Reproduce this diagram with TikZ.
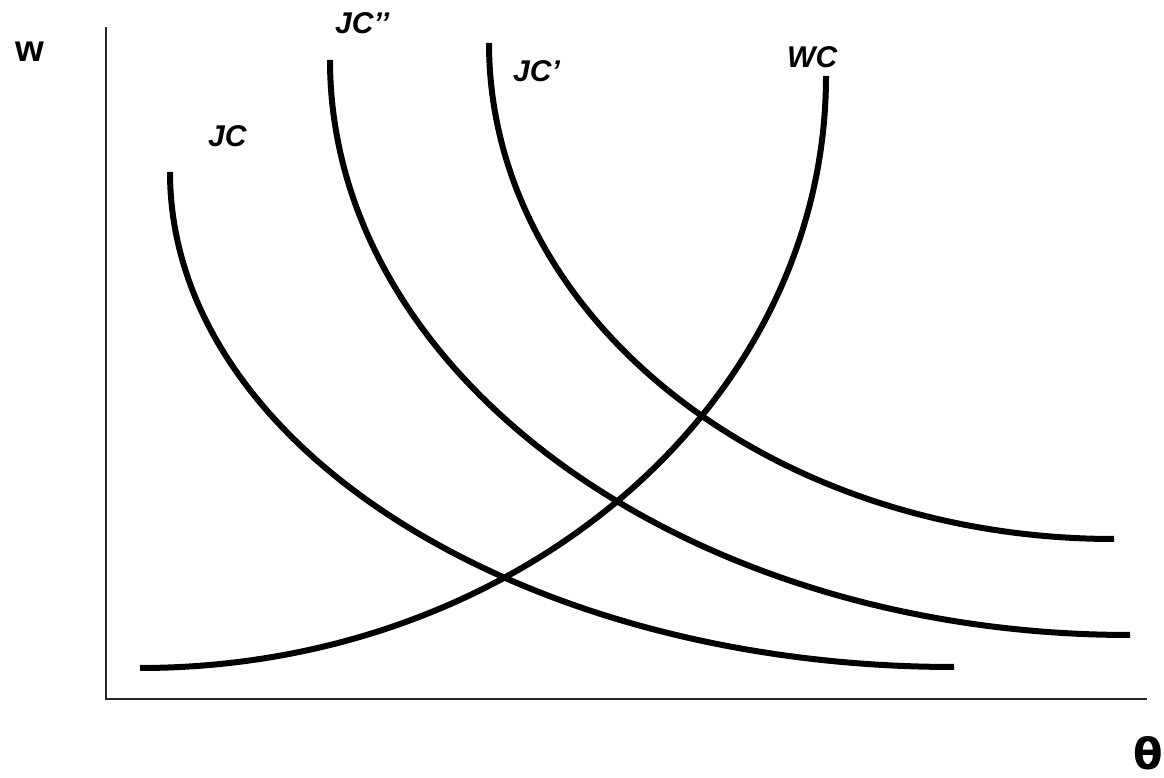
\documentclass[tikz,border=0pt]{standalone}
\usepackage{fontspec}
\setmainfont{Liberation Sans}
\newfontfamily\dejavu{DejaVu Sans}
\begin{document}
\begin{tikzpicture}[x=1pt,y=1pt,
  curve/.style={line width=6pt, line cap=butt},
  axis/.style={line width=1.8pt, draw=black!85},
  lbl/.style={anchor=base west, inner sep=0pt, font=\fontsize{30}{36}\selectfont\bfseries\itshape},
  axlbl/.style={anchor=base west, inner sep=0pt, font=\fontsize{37}{44}\selectfont\bfseries}]
\useasboundingbox (0,0) rectangle (1164,778);
% axes
\coordinate (ytop) at (106,751);
\coordinate (orig) at (106,79);
\coordinate (xend) at (1147,79);
\draw[axis] (ytop) -- (orig) -- (xend);
% curves (elliptical arcs)
\coordinate (jcs) at (170,606);
\coordinate (jcpps) at (330,718);
\coordinate (jcps) at (489,735);
\coordinate (wcs) at (140,110);
\draw[curve] (jcs) arc[start angle=180, end angle=270, x radius=784, y radius=495];
\draw[curve] (jcpps) arc[start angle=180, end angle=270, x radius=800, y radius=575];
\draw[curve] (jcps) arc[start angle=180, end angle=270, x radius=625, y radius=496];
\draw[curve] (wcs) arc[start angle=270, end angle=360, x radius=686, y radius=592];
% labels
\node[lbl] (ljc) at (208,631) {JC};
\node[lbl] (ljcpp) at (335,744) {JC’’};
\node[lbl] (ljcp) at (513,696) {JC’};
\node[lbl] (lwc) at (787,710) {WC};
\node[axlbl] (lw) at (15,716) {w};
\node[anchor=base west, inner sep=0pt, font=\fontsize{43}{50}\selectfont\dejavu\bfseries] (lth) at (1133,8) {θ};
\end{tikzpicture}
\end{document}
